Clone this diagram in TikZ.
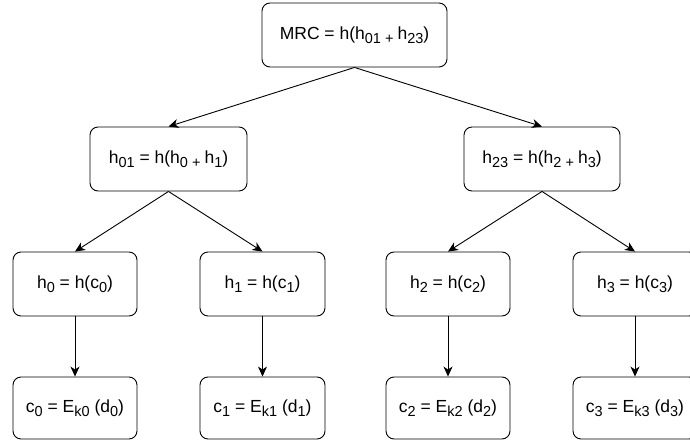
\documentclass[tikz,border=0pt]{standalone}
\usepackage{fontspec}
\setmainfont{Liberation Sans}
\usetikzlibrary{arrows.meta}
\newcommand\lowtxt[1]{\raisebox{-0.45ex}{\fontsize{14.5}{15}\selectfont #1}}
\begin{document}
\begin{tikzpicture}[x=1pt,y=-1pt,
  box/.style={draw, rounded corners=8pt, line width=0.9pt, inner sep=0pt,
    minimum height=64pt, font=\fontsize{17.5}{20}\selectfont},
  conn/.style={-{Stealth[length=10pt,width=9pt,inset=3pt]}, line width=0.9pt}]
\clip (0,0) rectangle (690,441);
\node[box, minimum width=185pt] (mrc) at (354.5,35) {MRC = h(h\lowtxt{01}\lowtxt{ + }h\lowtxt{23})};
\node[box, minimum width=157pt] (h01) at (168.5,159) {h\lowtxt{01} = h(h\lowtxt{0}\lowtxt{ + }h\lowtxt{1})};
\node[box, minimum width=156pt] (h23) at (542,159) {h\lowtxt{23} = h(h\lowtxt{2}\lowtxt{ + }h\lowtxt{3})};
\node[box, minimum width=124pt] (h0) at (75,284) {h\lowtxt{0} = h(c\lowtxt{0})};
\node[box, minimum width=125pt] (h1) at (262.5,284) {h\lowtxt{1} = h(c\lowtxt{1})};
\node[box, minimum width=124pt] (h2) at (448,284) {h\lowtxt{2} = h(c\lowtxt{2})};
\node[box, minimum width=124pt] (h3) at (635,284) {h\lowtxt{3} = h(c\lowtxt{3})};
\node[box, minimum width=124pt, minimum height=62pt] (c0) at (75,408) {c\lowtxt{0} = E\lowtxt{k0} (d\lowtxt{0})};
\node[box, minimum width=125pt, minimum height=62pt] (c1) at (262.5,408) {c\lowtxt{1} = E\lowtxt{k1} (d\lowtxt{1})};
\node[box, minimum width=124pt, minimum height=62pt] (c2) at (448,408) {c\lowtxt{2} = E\lowtxt{k2} (d\lowtxt{2})};
\node[box, minimum width=124pt, minimum height=62pt] (c3) at (635,408) {c\lowtxt{3} = E\lowtxt{k3} (d\lowtxt{3})};
\draw[conn] (mrc.south) -- (h01.north);
\draw[conn] (mrc.south) -- (h23.north);
\draw[conn] (h01.south) -- (h0.north);
\draw[conn] (h01.south) -- (h1.north);
\draw[conn] (h23.south) -- (h2.north);
\draw[conn] (h23.south) -- (h3.north);
\draw[conn] (h0.south) -- (c0.north);
\draw[conn] (h1.south) -- (c1.north);
\draw[conn] (h2.south) -- (c2.north);
\draw[conn] (h3.south) -- (c3.north);
\end{tikzpicture}
\end{document}
